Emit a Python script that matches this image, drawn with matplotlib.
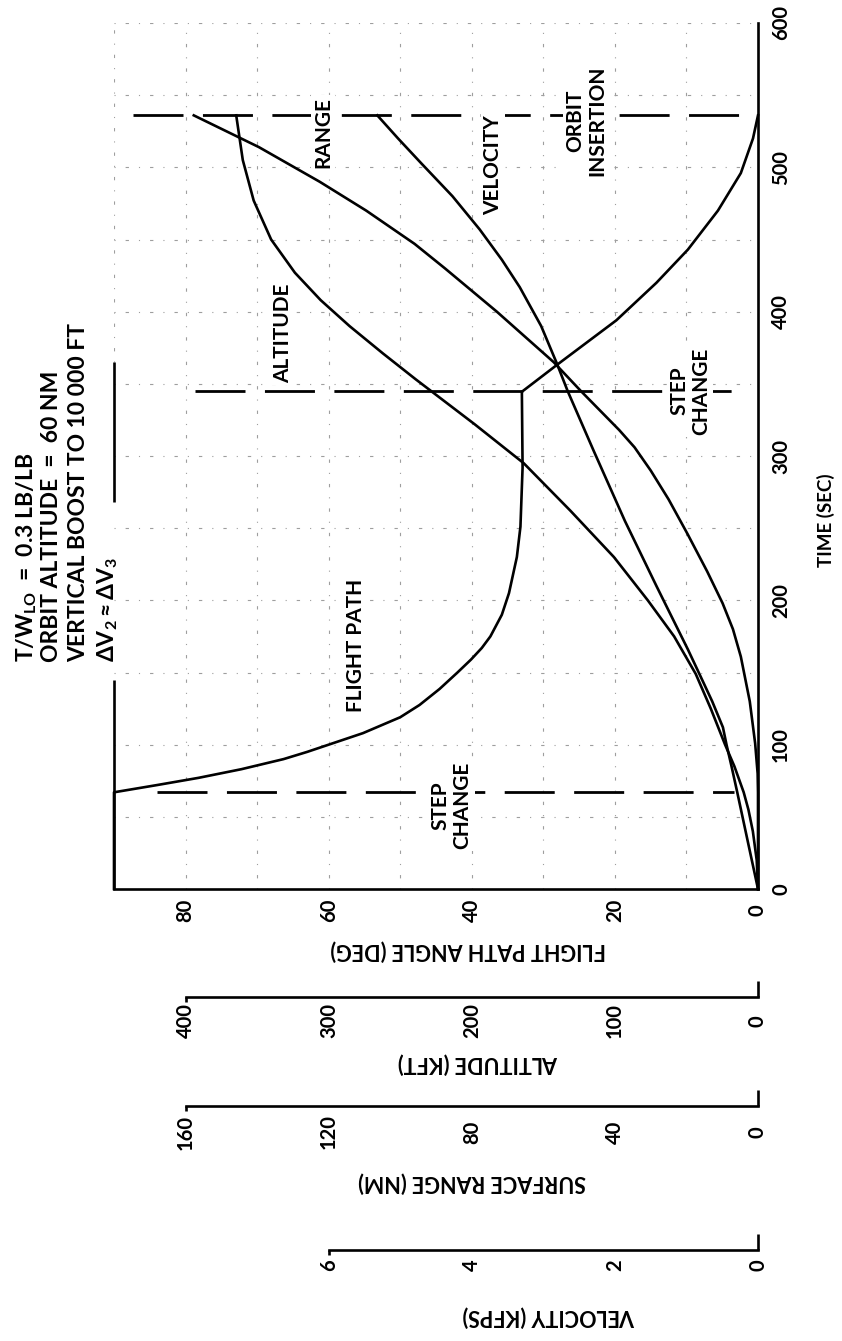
import matplotlib
matplotlib.use("Agg")
import matplotlib.pyplot as plt

plt.rcParams["font.family"] = ["Lato", "DejaVu Sans"]
plt.rcParams["font.weight"] = "bold"
plt.rcParams["mathtext.fontset"] = "custom"
plt.rcParams["mathtext.rm"] = "Lato:bold"
plt.rcParams["mathtext.it"] = "Lato:bold:italic"
plt.rcParams["mathtext.bf"] = "Lato:bold"
plt.rcParams["mathtext.fallback"] = "stixsans"

# ---- trajectory histories (time in seconds) ----
fpa_time = [0, 67, 72, 77, 83, 90, 95, 100, 108, 119, 127.5, 138.6, 150, 159, 167,
            175, 190, 205, 230, 251, 292, 344.5, 363.5, 394, 420, 443, 470, 496, 520, 536]
fpa_deg = [90, 90, 84, 78.2, 72.2, 66.3, 63.0, 60, 55.2, 50, 47.3, 44.5, 42.0, 40.1, 38.6,
           37.4, 35.8, 34.8, 33.7, 33.2, 32.9, 33.0, 28.0, 19.8, 14.2, 9.8, 5.6, 2.4, 0.7, 0]

alt_time = [0, 20, 40, 55, 67, 85, 100, 125, 149, 175, 200, 230, 262, 295, 322,
            353, 371, 390, 408, 427, 450, 477, 505, 536]
alt_kft = [0, 0.9, 3.6, 6.7, 10, 16.5, 23, 33, 43.5, 58.6, 77, 100.7, 131, 163.7, 198,
           239, 262, 285.4, 305.6, 323.6, 340.2, 352.4, 360, 364.6]

vel_time = [0, 30, 67, 85, 100, 112, 130, 147, 166, 185, 210, 255, 304, 345, 364,
            390, 417, 436, 457, 480, 503, 520, 536]
vel_kfps = [0, 0.13, 0.29, 0.37, 0.44, 0.49, 0.64, 0.80, 0.98, 1.17, 1.42, 1.86, 2.30,
            2.66, 2.81, 3.03, 3.33, 3.58, 3.89, 4.27, 4.71, 5.03, 5.32]

rng_time = [0, 67, 80, 101, 130, 161, 180, 198, 220, 246, 270, 290, 306, 318, 345,
            365, 400, 430, 447, 470, 490, 514, 536]
rng_nm = [0, 0, 0.1, 0.8, 2.3, 4.8, 7.0, 9.9, 14.2, 19.7, 25.0, 30.0, 34.5, 38.8, 49.5,
          57.1, 73, 87.5, 96, 109.5, 122.5, 139.5, 157.7]

# events: first step change, second step change, orbit insertion
event_times = [67, 345, 536]

# axis scales
time_ticks = [0, 100, 200, 300, 400, 500, 600]
angle_ticks = [0, 20, 40, 60, 80]
alt_ticks = [0, 100, 200, 300, 400]
rng_ticks = [0, 40, 80, 120, 160]
vel_ticks = [0, 2, 4, 6]
angle_grid = [10, 20, 30, 40, 50, 60, 70, 80]
time_grid = [50, 100, 150, 200, 250, 300, 350, 400, 450, 500, 550, 600]

# ---- layout ----
W, H = 842, 1341
fig = plt.figure(figsize=(W / 100, H / 100), dpi=100)


def fx(px):
    return px / W


def fy(py):
    return 1 - py / H


def pts(px):
    return px * 72 / 100


INK = "black"
CURVE_LW = 1.9
AXIS_LW = 1.9
TICK_FS = 14.5
NOTE_FS = 15
LABEL_FS = 15.5

L, R, T, B = 114, 758, 23, 889
ax = fig.add_axes([fx(L), fy(B), (R - L) / W, (B - T) / H])
ax.set_xlim(90, 0)
ax.set_ylim(0, 600)
ax.patch.set_alpha(0)
for side in ("top", "left"):
    ax.spines[side].set_visible(False)
for side in ("right", "bottom"):
    ax.spines[side].set_linewidth(AXIS_LW)

# faint, broken grid
grid_kw = dict(color="0.62", lw=0.8, ls=(0, (1, 9, 3, 9)), zorder=1)
for a in angle_grid:
    ax.axvline(a, **grid_kw)
for t in time_grid:
    ax.axhline(t, **grid_kw)
ax.plot([90, 90], [365, 600], **grid_kw)

# left frame (broken around the note block)
frame_kw = dict(color=INK, lw=AXIS_LW, solid_capstyle="butt", clip_on=False, zorder=3)
ax.plot([90, 90], [0, 145], **frame_kw)
ax.plot([90, 90], [268, 365], **frame_kw)

# ticks
ax.set_xticks(angle_ticks)
ax.set_yticks(time_ticks)
ax.yaxis.tick_right()
ax.tick_params(axis="both", length=0, labelsize=TICK_FS)
ax.tick_params(axis="x", pad=pts(21), labelrotation=90)
ax.tick_params(axis="y", pad=pts(23), labelrotation=90)
for lbl in ax.get_xticklabels() + ax.get_yticklabels():
    lbl.set_ha("center")
    lbl.set_va("center")

# twin scales sharing the time axis
ax_alt = ax.twiny()
ax_alt.set_xlim(450, 0)
ax_alt.axis("off")
ax_rng = ax.twiny()
ax_rng.set_xlim(180, 0)
ax_rng.axis("off")
ax_vel = ax.twiny()
ax_vel.set_xlim(9, 0)
ax_vel.axis("off")

curve_kw = dict(color=INK, lw=CURVE_LW, solid_joinstyle="round", zorder=4, clip_on=False)
ax.plot(fpa_deg, fpa_time, **curve_kw)
ax_alt.plot(alt_kft, alt_time, **curve_kw)
ax_rng.plot(rng_nm, rng_time, **curve_kw)
ax_vel.plot(vel_kfps, vel_time, **curve_kw)

# event lines
dash_kw = dict(color=INK, lw=2.0, ls=(0, (18, 7)), zorder=3)
event_spans = [(84, 3.4), (78.7, 2.4), (87.3, 0.6)]
for t, (a0, a1) in zip(event_times, event_spans):
    ax.plot([a0, a1], [t, t], **dash_kw)

# curve annotations
box = dict(fc="white", ec="none", pad=1.5)
note_kw = dict(rotation=90, ha="center", va="center", fontsize=NOTE_FS,
               bbox=box, zorder=6, multialignment="center", linespacing=1.12)
ax.text(66.4, 385, "ALTITUDE", **note_kw)
ax.text(60.8, 524, "RANGE", **note_kw)
ax.text(37.0, 501.6, "VELOCITY", **note_kw)
ax.text(24.0, 532, "ORBIT\nINSERTION", **note_kw)
ax.text(9.5, 345, "STEP\nCHANGE", **note_kw)
ax.text(42.8, 58, "STEP\nCHANGE", **note_kw)
ax.text(56.2, 169, "FLIGHT PATH", **note_kw)

# axis titles of the main chart
fig.text(fx(826), fy(520), "TIME (SEC)", rotation=90, ha="center", va="center",
         fontsize=13.5)
fig.text(fx(468), fy(950), "FLIGHT PATH ANGLE (DEG)", rotation=180,
         ha="center", va="center", fontsize=LABEL_FS)

# conditions block
note_lines = [
    (33, r"T/W$_{\mathrm{LO}}$  =  0.3 LB/LB"),
    (58, "ORBIT ALTITUDE  =  60 NM"),
    (85, "VERTICAL BOOST TO 10 000 FT"),
    (114, r"$\Delta\mathrm{V}_2 \approx \Delta\mathrm{V}_3$"),
]
for x_px, s in note_lines:
    fig.text(fx(x_px), fy(662), s, rotation=90, rotation_mode="anchor",
             ha="left", va="baseline", fontsize=16.5)


# ---- auxiliary scales below the chart ----
def draw_scale(y_px, left_px, vmax, ticks, label, label_xy, gap_px):
    sa = fig.add_axes([fx(left_px), fy(y_px), (R - left_px) / W, 16 / H])
    sa.set_xlim(vmax, 0)
    sa.set_ylim(0, 1)
    sa.patch.set_alpha(0)
    for side in ("top", "left", "right"):
        sa.spines[side].set_visible(False)
    sa.spines["bottom"].set_linewidth(AXIS_LW)
    sa.set_yticks([])
    sa.set_xticks(ticks)
    sa.tick_params(axis="x", length=0, labelsize=TICK_FS, pad=pts(gap_px),
                   labelrotation=90)
    for lbl in sa.get_xticklabels():
        lbl.set_ha("center")
        lbl.set_va("center")
    stub = dict(color=INK, lw=AXIS_LW, clip_on=False, solid_capstyle="butt")
    sa.plot([0, 0], [0, 1], **stub)
    sa.plot([vmax, vmax], [0, -0.3], **stub)
    fig.text(fx(label_xy[0]), fy(label_xy[1]), label, rotation=180,
             ha="center", va="center", fontsize=LABEL_FS)


draw_scale(997, 186, 400, alt_ticks, "ALTITUDE (KFT)", (478, 1063), 24)
draw_scale(1106, 186, 160, rng_ticks, "SURFACE RANGE (NM)", (472, 1182), 26)
draw_scale(1250, 329, 6, vel_ticks, "VELOCITY (KFPS)", (549, 1316), 15)

fig.savefig("out.png", dpi=100)
